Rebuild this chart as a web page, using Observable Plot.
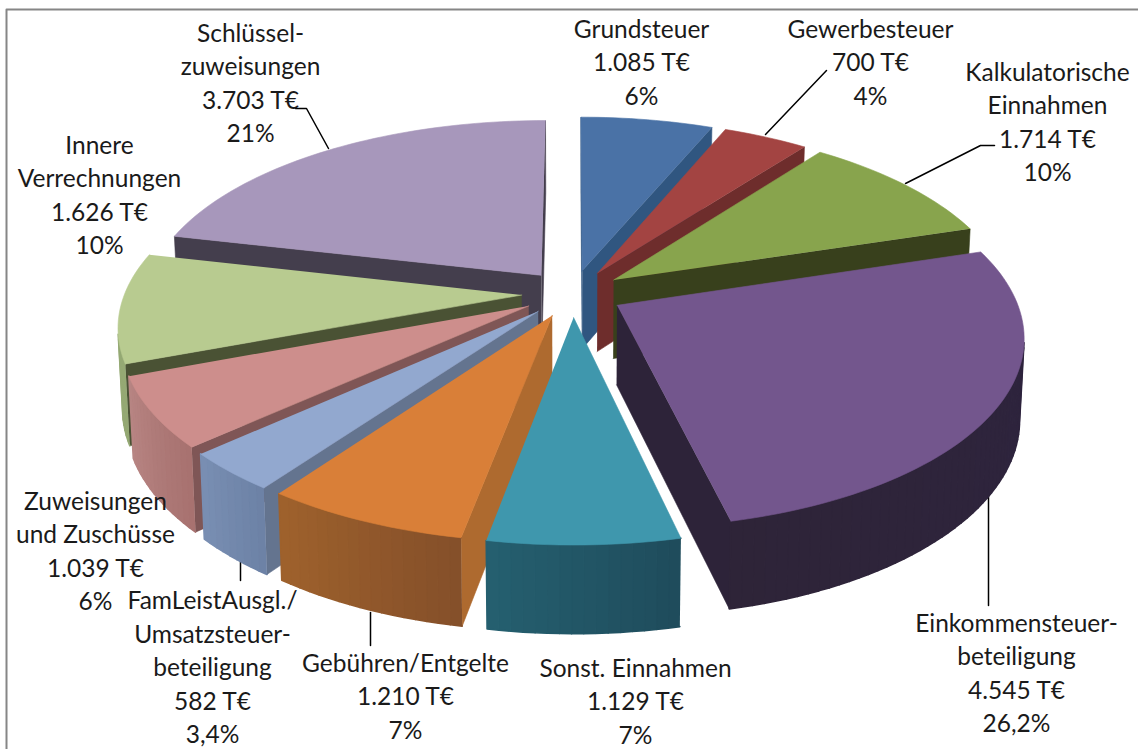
<!DOCTYPE html>
<html>
<head>
<meta charset="utf-8">
<script src="https://cdn.jsdelivr.net/npm/d3@7"></script>
<script src="https://cdn.jsdelivr.net/npm/@observablehq/plot@0.6"></script>
<style>html,body{margin:0;padding:0;background:#fff}svg{display:block}</style>
</head>
<body>
<script>
// --- data ---
const names = ["Grundsteuer","Gewerbesteuer","Kalkulatorische\nEinnahmen","Einkommensteuer-\nbeteiligung","Sonst. Einnahmen","Gebühren/Entgelte","FamLeistAusgl./\nUmsatzsteuer-\nbeteiligung","Zuweisungen\nund Zuschüsse","Innere\nVerrechnungen","Schlüssel-\nzuweisungen"];
const values = [1085,700,1714,4545,1129,1210,582,1039,1626,3703];
const valueLabels = ["1.085 T€","700 T€","1.714 T€","4.545 T€","1.129 T€","1.210 T€","582 T€","1.039 T€","1.626 T€","3.703 T€"];
const percentLabels = ["6%","4%","10%","26,2%","7%","7%","3,4%","6%","10%","21%"];

// --- styles ---
const topColors  = ["#4a72a6","#a34442","#88a44d","#73568d","#3f97ad","#d97f38","#92a8cf","#cd8e8c","#b8cb90","#a797bb"];
const wallColors = ["#305680","#6e2d2c","#38401c","#2d2339","#245f6e","#ae6a2f","#64748f","#7f5656","#4a5234","#443e4d"];
const rimStart   = ["#305680","#6e2d2c","#5c6e34","#2e2440","#1f4c5c","#85502a","#6d82a6","#a87270","#95a974","#6f6480"];
const rimEnd     = ["#305680","#6e2d2c","#5c6e34","#2e2438","#256070","#a0622c","#7a90b4","#b88684","#95a974","#6f6480"];

// --- label layout ---
const labelX = [641,870,1047,1016,635,405,212,95,99,250];
const labelY = [60,60,120,671,699,694,665,549,193,81];
const leaders = [
  [[765,134],[826,70]],
  [[905,183],[980,145],[994,145]],
  [[988,490],[988,605]],
  [[370,612],[370,645]],
  [[240,560],[240,580]],
  [[328,148],[306,108],[295,108]]
];

// --- pie camera ---
const cx = 572, cy = 293, R = 397, Ry = 184, persp = 0.155, depth = 79, explode = 0.128, shrink = 0.01;
const project = (u, v, h) => {
  const s = 1 / (1 + persp * v);
  return [cx + R * u * s * (1 - shrink * h), cy - Ry * v * s + depth * h * Math.pow(s, 0.6)];
};
const area2 = (p) => d3.sum(p, (a, i) => { const b = p[(i + 1) % p.length]; return a[0] * b[1] - b[0] * a[1]; });

const total = d3.sum(values);
let acc = 0;
const slices = values.map((val, i) => {
  const a0 = acc / total * 2 * Math.PI; acc += val;
  const a1 = acc / total * 2 * Math.PI;
  const mid = (a0 + a1) / 2;
  return {i, a0, a1, mid, ou: explode * Math.sin(mid), ov: explode * Math.cos(mid)};
});

const rows = [];
let pid = 0;
const poly = (pts, color, sw) => { const id = pid++; pts.forEach(p => rows.push({id, x: p[0], y: p[1], color, sw})); };

slices.slice().sort((a, b) => Math.cos(b.mid) - Math.cos(a.mid)).forEach(sl => {
  const {i, a0, a1, ou, ov} = sl;
  const n = Math.max(2, Math.ceil((a1 - a0) / (Math.PI / 120)));
  const ang = d3.range(n + 1).map(k => a0 + (a1 - a0) * k / n);
  const P = (a, h) => project(ou + Math.sin(a), ov + Math.cos(a), h);
  const O = h => project(ou, ov, h);
  // radial walls
  const w0 = [O(0), P(a0, 0), P(a0, 1), O(1)];
  if (area2(w0) < 0) poly(w0, wallColors[i], 0.6);
  const w1 = [O(0), P(a1, 0), P(a1, 1), O(1)];
  if (area2(w1) > 0) poly(w1, wallColors[i], 0.6);
  // outer rim
  const mix = d3.interpolateRgb(rimStart[i], rimEnd[i]);
  for (let k = 0; k < n; k++) {
    const q = [P(ang[k], 0), P(ang[k + 1], 0), P(ang[k + 1], 1), P(ang[k], 1)];
    if (area2(q) < 0) poly(q, mix(k / n), 1.6);
  }
  // top face
  poly([O(0), ...ang.map(a => P(a, 0))], topColors[i], 0.6);
});

const leaderRows = leaders.flatMap((l, id) => l.map(p => ({id, x: p[0], y: p[1]})));
const frameRows = [{x: 6, y: 749}, {x: 6, y: 9}, {x: 1138, y: 9}];
const labels = names.map((n, i) => ({
  text: n + "\n" + valueLabels[i] + "\n" + percentLabels[i], x: labelX[i], y: labelY[i]
}));

const chart = Plot.plot({
  width: 1138, height: 749, margin: 0,
  x: {axis: null, domain: [0, 1138], range: [0, 1138]},
  y: {axis: null, domain: [0, 749], range: [0, 749]},
  style: {background: "#fff"},
  marks: [
    Plot.line(frameRows, {x: "x", y: "y", stroke: "#868686", strokeWidth: 2}),
    Plot.line(leaderRows, {x: "x", y: "y", z: "id", stroke: "#000", strokeWidth: 1.5}),
    Plot.line(rows, {x: "x", y: "y", z: "id", fill: d => d.color, stroke: d => d.color, strokeWidth: d => d.sw, strokeLinejoin: "round"}),
    Plot.text(labels, {x: "x", y: "y", text: "text", fontFamily: "Lato", fontSize: 24.5, lineHeight: 1.365, fill: "#1a1a1a", textAnchor: "middle", lineAnchor: "middle"})
  ]
});
document.body.appendChild(chart);
</script>
</body>
</html>
